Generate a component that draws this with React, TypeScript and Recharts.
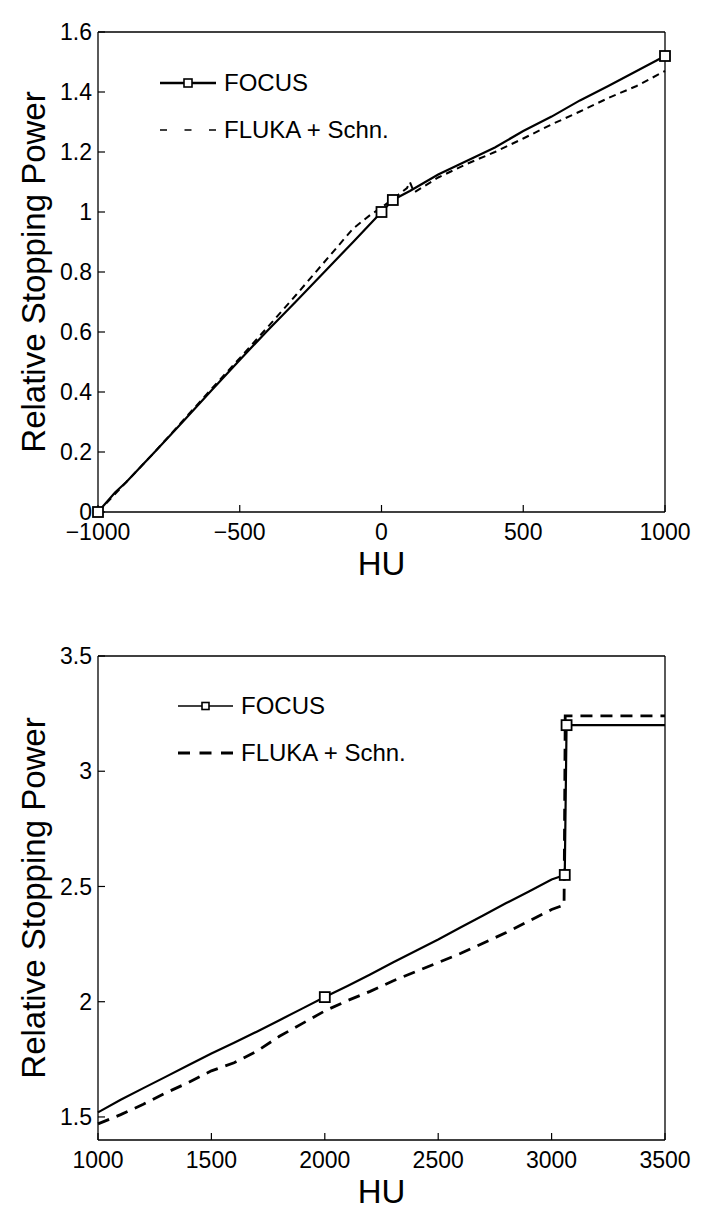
import React from 'react';
import { ComposedChart, Line, XAxis, YAxis, Legend, Label } from 'recharts';

const FONT = '"Liberation Sans", Arial, Helvetica, sans-serif';

// ---------- Top panel data (HU -1000..1000) ----------
const topFocusX = [-1000, -940, -900, -800, -700, -600, -500, -400, -300, -200, -100, 0, 40, 100, 200, 300, 400, 500, 600, 700, 800, 900, 1000];
const topFocusY = [0, 0.065, 0.1, 0.2, 0.302, 0.405, 0.507, 0.607, 0.703, 0.802, 0.9, 1.0, 1.04, 1.07, 1.125, 1.17, 1.215, 1.27, 1.318, 1.372, 1.42, 1.47, 1.52];
const topFocusMarkX = [-1000, 0, 40, 1000];
const topFocusMarkY = [0, 1.0, 1.04, 1.52];
const topFlukaX = [-1000, -900, -800, -700, -600, -500, -400, -300, -200, -100, -40, 0, 50, 90, 100, 115, 200, 300, 400, 500, 600, 700, 800, 900, 1000];
const topFlukaY = [0, 0.1, 0.2, 0.305, 0.41, 0.513, 0.618, 0.725, 0.835, 0.945, 0.99, 1.015, 1.05, 1.08, 1.1, 1.065, 1.115, 1.16, 1.2, 1.245, 1.292, 1.335, 1.38, 1.42, 1.47];
const topXTicks = [-1000, -500, 0, 500, 1000];
const topYTicks = [0, 0.2, 0.4, 0.6, 0.8, 1, 1.2, 1.4, 1.6];

// ---------- Bottom panel data (HU 1000..3500) ----------
const botFocusX = [1000, 1100, 1200, 1300, 1400, 1500, 1600, 1700, 1800, 1900, 2000, 2100, 2200, 2300, 2400, 2500, 2600, 2700, 2800, 2900, 3000, 3058, 3066, 3500];
const botFocusY = [1.52, 1.575, 1.625, 1.675, 1.725, 1.775, 1.822, 1.87, 1.92, 1.97, 2.02, 2.068, 2.118, 2.17, 2.22, 2.27, 2.323, 2.375, 2.428, 2.478, 2.53, 2.55, 3.2, 3.2];
const botFocusMarkX = [2000, 3058, 3066];
const botFocusMarkY = [2.02, 2.55, 3.2];
const botFlukaX = [1000, 1100, 1200, 1300, 1400, 1500, 1600, 1700, 1800, 1900, 2000, 2100, 2200, 2300, 2400, 2500, 2600, 2700, 2800, 2900, 3000, 3055, 3060, 3500];
const botFlukaY = [1.47, 1.51, 1.555, 1.605, 1.65, 1.7, 1.735, 1.785, 1.85, 1.905, 1.96, 2.005, 2.045, 2.09, 2.13, 2.17, 2.21, 2.255, 2.3, 2.35, 2.4, 2.42, 3.24, 3.24];
const botXTicks = [1000, 1500, 2000, 2500, 3000, 3500];
const botYTicks = [1.5, 2, 2.5, 3, 3.5];

const seriesNames = ['FOCUS', 'FLUKA + Schn.'];

const zip = (xs: number[], ys: number[]) => xs.map((x, i) => ({ x, y: ys[i] }));

const squareDot = (size: number, sw: number) => (props: any) => {
  const { cx, cy, index } = props;
  if (cx == null || cy == null) return <g key={`sq-${index}`} />;
  return (
    <rect key={`sq-${index}`} x={cx - size / 2} y={cy - size / 2} width={size} height={size}
      fill="white" stroke="black" strokeWidth={sw} />
  );
};

const fmtX = (v: number) => (v < 0 ? '\u2212' + Math.abs(v) : String(v));

const tickStyle = { fill: 'black', fontSize: 23, fontFamily: FONT };

const LegendBox = ({ lineLen, solidW, dashW, dash, textGap, rowGap, sq }: any) => (
  <div style={{ position: 'relative', width: 260, height: rowGap + 24, fontFamily: FONT, fontSize: 24, color: 'black' }}>
    <div style={{ position: 'absolute', left: 0, top: 0, height: 24, display: 'flex', alignItems: 'center' }}>
      <svg width={lineLen} height={24} style={{ display: 'block' }}>
        <line x1={0} y1={12} x2={lineLen} y2={12} stroke="black" strokeWidth={solidW} />
        <rect x={lineLen / 2 - sq / 2} y={12 - sq / 2} width={sq} height={sq} fill="white" stroke="black" strokeWidth={1.6} />
      </svg>
      <span style={{ marginLeft: textGap, lineHeight: '24px', whiteSpace: 'nowrap' }}>{seriesNames[0]}</span>
    </div>
    <div style={{ position: 'absolute', left: 0, top: rowGap, height: 24, display: 'flex', alignItems: 'center' }}>
      <svg width={lineLen} height={24} style={{ display: 'block' }}>
        <line x1={0} y1={12} x2={lineLen} y2={12} stroke="black" strokeWidth={dashW} strokeDasharray={dash} />
      </svg>
      <span style={{ marginLeft: textGap, lineHeight: '24px', whiteSpace: 'nowrap' }}>{seriesNames[1]}</span>
    </div>
  </div>
);

const yLabel = (props: any) => {
  const vb = props.viewBox || { x: 0, y: 0, width: 98, height: 480 };
  const cx = vb.x + 33;
  const cy = vb.y + vb.height / 2;
  return (
    <text x={cx} y={cy} transform={`rotate(-90 ${cx} ${cy})`} textAnchor="middle" dominantBaseline="central"
      fontSize={33} fontFamily={FONT} fill="black">Relative Stopping Power</text>
  );
};

const xLabel = (offset: number) => (props: any) => {
  const vb = props.viewBox || { x: 98, y: 0, width: 567, height: 80 };
  const cx = vb.x + vb.width / 2;
  const cy = vb.y + offset;
  return (
    <text x={cx} y={cy} textAnchor="middle" dominantBaseline="central" fontSize={33} fontFamily={FONT} fill="black">HU</text>
  );
};

interface PanelProps {
  height: number;
  marginTop: number;
  xAxisHeight: number;
  xDomain: [number, number];
  yDomain: [number, number];
  xTicks: number[];
  yTicks: number[];
  focus: { x: number; y: number }[];
  marks: { x: number; y: number }[];
  fluka: { x: number; y: number }[];
  focusW: number;
  flukaW: number;
  flukaDash: string;
  legendLeft: number;
  legendTop: number;
  legend: any;
}

const Panel = (p: PanelProps) => {
  const axisLine = { stroke: 'black', strokeWidth: 1.3 };
  const tickLine = { stroke: 'black', strokeWidth: 1.2 };
  return (
    <ComposedChart width={707} height={p.height} margin={{ top: p.marginTop, right: 41, bottom: 0, left: 0 }}>
      <XAxis xAxisId="b" type="number" dataKey="x" domain={p.xDomain} ticks={p.xTicks} interval={0}
        tickFormatter={fmtX} tick={tickStyle} tickSize={-7} tickMargin={19} height={p.xAxisHeight}
        axisLine={axisLine} tickLine={tickLine}>
        <Label content={xLabel(51)} />
      </XAxis>
      <XAxis xAxisId="t" orientation="top" type="number" dataKey="x" domain={p.xDomain} ticks={p.xTicks} interval={0}
        tick={false} tickSize={-7} height={1} axisLine={axisLine} tickLine={tickLine} />
      <YAxis yAxisId="l" type="number" domain={p.yDomain} ticks={p.yTicks} interval={0}
        tick={tickStyle} tickSize={-7} tickMargin={13} width={98} axisLine={axisLine} tickLine={tickLine}>
        <Label content={yLabel} />
      </YAxis>
      <YAxis yAxisId="r" orientation="right" type="number" domain={p.yDomain} ticks={p.yTicks} interval={0}
        tick={false} tickSize={-7} width={1} axisLine={axisLine} tickLine={tickLine} />
      <Line xAxisId="b" yAxisId="l" data={p.fluka} dataKey="y" type="linear" stroke="black" strokeWidth={p.flukaW}
        strokeDasharray={p.flukaDash} dot={false} activeDot={false} isAnimationActive={false} />
      <Line xAxisId="b" yAxisId="l" data={p.focus} dataKey="y" type="linear" stroke="black" strokeWidth={p.focusW}
        dot={false} activeDot={false} isAnimationActive={false} />
      <Line xAxisId="b" yAxisId="l" data={p.marks} dataKey="y" type="linear" stroke="none" strokeWidth={0}
        dot={squareDot(10, 1.8)} activeDot={false} isAnimationActive={false} legendType="none" />
      <Legend layout="vertical" align="center" verticalAlign="middle"
        wrapperStyle={{ position: 'absolute', left: p.legendLeft, top: p.legendTop, width: 260, margin: 0 }}
        content={() => p.legend} />
    </ComposedChart>
  );
};

export default function App() {
  return (
    <div style={{ position: 'absolute', left: 0, top: 0, width: 707, height: 1220, background: 'white' }}>
      <div style={{ position: 'absolute', left: 0, top: 0 }}>
        <Panel height={600} marginTop={31} xAxisHeight={88} xDomain={[-1000, 1000]} yDomain={[0, 1.6]}
          xTicks={topXTicks} yTicks={topYTicks}
          focus={zip(topFocusX, topFocusY)} marks={zip(topFocusMarkX, topFocusMarkY)} fluka={zip(topFlukaX, topFlukaY)}
          focusW={2.2} flukaW={2} flukaDash="7 5"
          legendLeft={160} legendTop={71}
          legend={<LegendBox lineLen={56} solidW={2.6} dashW={1.6} dash="7 17.5" textGap={8} rowGap={47} sq={8} />} />
      </div>
      <div style={{ position: 'absolute', left: 0, top: 600 }}>
        <Panel height={620} marginTop={55} xAxisHeight={80} xDomain={[1000, 3500]} yDomain={[1.4, 3.5]}
          xTicks={botXTicks} yTicks={botYTicks}
          focus={zip(botFocusX, botFocusY)} marks={zip(botFocusMarkX, botFocusMarkY)} fluka={zip(botFlukaX, botFlukaY)}
          focusW={2.2} flukaW={2.8} flukaDash="12 8"
          legendLeft={178} legendTop={94}
          legend={<LegendBox lineLen={55} solidW={1.4} dashW={2.8} dash="12 9.5" textGap={8} rowGap={47} sq={7} />} />
      </div>
    </div>
  );
}
